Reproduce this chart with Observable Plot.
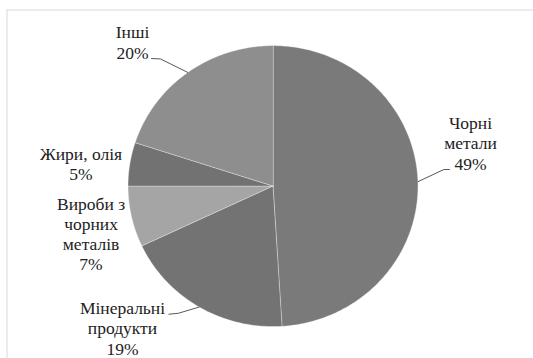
<!DOCTYPE html>
<html>
<head>
<meta charset="utf-8">
<script src="https://cdn.jsdelivr.net/npm/d3@7"></script>
<script src="https://cdn.jsdelivr.net/npm/@observablehq/plot@0.6"></script>
<style>
  html, body { margin: 0; padding: 0; background: #fff; }
</style>
</head>
<body>
<div id="chart"></div>
<script>
// ---- data ----
const categories = ["Чорні метали", "Мінеральні продукти", "Вироби з чорних металів", "Жири, олія", "Інші"];
const shares = [49, 19, 7, 5, 20];
const labelTexts = ["Чорні\nметали\n49%", "Мінеральні\nпродукти\n19%", "Вироби з\nчорних\nметалів\n7%", "Жири, олія\n5%", "Інші\n20%"];

// ---- styling / layout (kept apart from the data) ----
const palette = ["#7a7a7a", "#737373", "#a5a5a5", "#727272", "#8e8e8e"];
// label anchor (centre x, last baseline y) in pie-radius units, plus optional leader elbow
const labelLayout = [
  {x: 1.362, y: 0.118, leader: [[1.217, 0.118], [1.178, 0.118]]},
  {x: -1.038, y: -1.199, leader: [[-0.718, -0.912], [-0.652, -0.905]]},
  {x: -1.255, y: -0.597, leader: null},
  {x: -1.324, y: 0.045, leader: null},
  {x: -0.969, y: 0.908, leader: [[-0.838, 0.908], [-0.776, 0.905]]}
];

const total = d3.sum(shares);
let acc = 0;
const slices = categories.map((c, i) => {
  const a0 = acc / total * 2 * Math.PI;
  acc += shares[i];
  const a1 = acc / total * 2 * Math.PI;
  const n = Math.max(2, Math.ceil((a1 - a0) / (Math.PI / 180)));
  const pts = [{x: 0, y: 0}];
  for (let k = 0; k <= n; ++k) {
    const a = a0 + (a1 - a0) * k / n;
    pts.push({x: Math.sin(a), y: Math.cos(a)});
  }
  const am = (a0 + a1) / 2;
  return {category: c, share: shares[i], pts, mid: {x: Math.sin(am), y: Math.cos(am)}, color: palette[i]};
});

const labels = slices.map((s, i) => ({text: labelTexts[i], x: labelLayout[i].x, y: labelLayout[i].y}));
const leaders = [];
slices.forEach((s, i) => {
  const L = labelLayout[i].leader;
  if (!L) return;
  leaders.push({key: i, x: L[0][0], y: L[0][1]});
  leaders.push({key: i, x: L[1][0], y: L[1][1]});
  leaders.push({key: i, x: s.mid.x, y: s.mid.y});
});

const chart = Plot.plot({
  width: 533,
  height: 358,
  marginTop: 9.5,
  marginLeft: 6.5,
  marginRight: 0,
  marginBottom: 0,
  x: {domain: [-1, 1], range: [127.5, 417.5], axis: null},
  y: {domain: [-1, 1], range: [326.1, 45.1], axis: null},
  style: {background: "#fff"},
  marks: [
    Plot.frame({anchor: "top", stroke: "#d9d9d9"}),
    Plot.frame({anchor: "left", stroke: "#d9d9d9"}),
    ...slices.map(s => Plot.line(s.pts, {x: "x", y: "y", fill: s.color, stroke: "#ffffff", strokeWidth: 0.6, strokeOpacity: 0.6, curve: "linear-closed"})),
    Plot.line(leaders, {x: "x", y: "y", z: "key", stroke: "#595959", strokeWidth: 1}),
    Plot.text(labels, {x: "x", y: "y", text: "text", textAnchor: "middle", lineAnchor: "bottom", lineHeight: 1.15, fontSize: 17.5, fontFamily: "Liberation Serif, Liberation Sans, serif", fill: "#222"})
  ]
});
document.getElementById("chart").appendChild(chart);
</script>
</body>
</html>
